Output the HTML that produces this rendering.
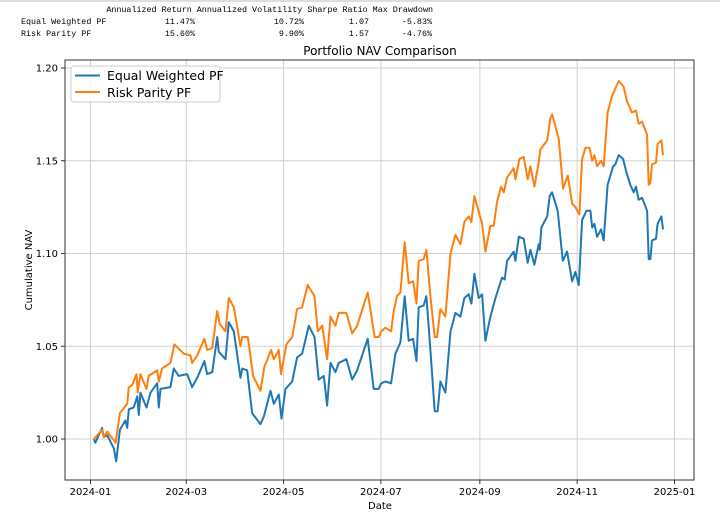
<!DOCTYPE html>
<html><head><meta charset="utf-8"><style>
html,body{margin:0;padding:0;background:#fff;}
svg{display:block;font-family:"DejaVu Sans","Liberation Sans",sans-serif;}
.mono{font-family:"Liberation Mono","DejaVu Sans Mono",monospace;font-size:8.4px;fill:#000;}
.tick{font-size:10px;fill:#000;}
</style></head><body>
<svg id="chart" width="720" height="522" viewBox="0 0 720 522">
  <line x1="0" y1="1" x2="720" y2="1" stroke="#ddd" stroke-width="2"/>
  <g>
    <text class="mono" x="433" y="12" text-anchor="end">Annualized Return Annualized Volatility Sharpe Ratio Max Drawdown</text>
    <text class="mono" x="21" y="24">Equal Weighted PF</text>
    <text class="mono" x="195" y="24" text-anchor="end">11.47%</text>
    <text class="mono" x="304" y="24" text-anchor="end">10.72%</text>
    <text class="mono" x="369" y="24" text-anchor="end">1.07</text>
    <text class="mono" x="432" y="24" text-anchor="end">-5.83%</text>
    <text class="mono" x="21" y="36">Risk Parity PF</text>
    <text class="mono" x="195" y="36" text-anchor="end">15.60%</text>
    <text class="mono" x="304" y="36" text-anchor="end">9.90%</text>
    <text class="mono" x="369" y="36" text-anchor="end">1.57</text>
    <text class="mono" x="432" y="36" text-anchor="end">-4.76%</text>
  </g>
  <text x="380" y="55" text-anchor="middle" font-size="12">Portfolio NAV Comparison</text>
  <g id="grid"></g>
  <g id="series"></g>
  <rect x="65" y="60" width="629" height="420" fill="none" stroke="#333" stroke-width="1"/>
  <g id="ticks"></g>
  <text x="380" y="509" text-anchor="middle" font-size="10">Date</text>
  <text transform="translate(32,270) rotate(-90)" text-anchor="middle" font-size="10">Cumulative NAV</text>
  <g>
    <rect x="71" y="66" width="149" height="36" rx="3" fill="#fff" fill-opacity="0.85" stroke="#ccc"/>
    <line x1="75" y1="75.5" x2="100" y2="75.5" stroke="#1f77b4" stroke-width="2"/>
    <text x="107" y="80" font-size="12.5">Equal Weighted PF</text>
    <line x1="75" y1="92" x2="100" y2="92" stroke="#ff7f0e" stroke-width="2"/>
    <text x="107" y="97" font-size="12.5">Risk Parity PF</text>
  </g>
</svg>
<script>
// days since 2024-01-01
const ewDays = [2.1,3.1,7.3,8.3,10.5,14.6,16.1,18.4,21.9,23.0,24.0,27.1,29.3,30.3,31.3,35.1,37.6,41.8,42.8,43.9,50.1,52.2,55.3,60.6,63.7,66.9,71.4,73.1,76.3,79.4,80.4,84.6,86.7,89.8,94.0,95.1,98.2,101.3,106.5,108.6,112.8,114.9,118.0,119.7,122.2,126.4,129.5,132.6,136.8,140.4,143.0,146.2,148.3,150.4,153.5,155.6,160.4,164.0,167.1,173.7,177.5,180.6,182.1,184.8,188.4,191.1,194.2,196.9,199.4,202.2,204.3,205.7,208.8,210.5,213.0,215.7,217.6,219.3,222.4,225.6,228.7,231.8,234.3,237.0,238.7,240.6,243.3,245.4,247.5,250.6,253.8,257.9,259.6,261.1,265.2,266.3,268.4,271.5,274.0,275.7,278.2,280.9,281.5,282.6,286.2,287.8,289.3,292.8,296.0,298.7,301.8,303.9,306.0,308.1,310.8,313.3,314.4,315.8,317.5,320.0,321.6,324.1,327.5,328.9,331.0,333.8,335.8,338.3,340.4,341.9,343.5,345.7,348.8,349.8,350.9,351.9,354.4,355.4,357.8,358.8];
const ewValues = [1.000,0.998,1.006,1.001,1.002,0.995,0.988,1.005,1.010,1.006,1.016,1.017,1.023,1.013,1.025,1.017,1.025,1.030,1.017,1.027,1.028,1.038,1.034,1.035,1.028,1.033,1.042,1.035,1.036,1.055,1.047,1.043,1.063,1.058,1.033,1.038,1.037,1.014,1.008,1.012,1.026,1.019,1.024,1.011,1.027,1.031,1.044,1.046,1.061,1.055,1.032,1.034,1.018,1.041,1.036,1.041,1.043,1.032,1.037,1.054,1.027,1.027,1.030,1.031,1.030,1.046,1.052,1.077,1.053,1.054,1.042,1.071,1.072,1.077,1.048,1.015,1.015,1.031,1.025,1.058,1.068,1.066,1.076,1.078,1.073,1.089,1.076,1.078,1.053,1.066,1.076,1.087,1.086,1.096,1.101,1.096,1.109,1.108,1.095,1.102,1.094,1.105,1.102,1.114,1.120,1.131,1.133,1.123,1.096,1.101,1.085,1.090,1.083,1.118,1.123,1.123,1.114,1.116,1.109,1.113,1.107,1.137,1.147,1.148,1.153,1.151,1.144,1.137,1.133,1.136,1.129,1.130,1.123,1.097,1.097,1.107,1.108,1.116,1.120,1.113];
const rpDays = [2.1,7.3,8.3,10.5,15.7,18.4,23.0,24.0,26.1,28.8,29.6,31.3,35.1,36.5,41.8,42.8,44.9,50.1,52.6,58.5,62.7,63.7,66.9,71.4,73.1,76.3,79.4,81.0,84.6,86.7,89.8,94.0,95.1,98.6,101.9,106.5,109.0,113.2,114.9,118.0,119.4,122.8,126.4,129.5,132.6,136.1,140.4,142.4,145.2,148.3,150.4,153.5,155.6,160.4,164.0,167.1,173.7,178.1,180.6,182.1,184.8,188.4,190.0,192.1,194.2,196.9,199.4,202.2,204.3,205.7,208.8,210.5,213.0,215.7,217.2,219.3,222.4,225.6,228.7,231.8,234.3,237.0,238.7,240.6,245.4,247.5,250.6,252.7,254.8,257.3,259.0,261.1,265.2,266.3,268.8,271.5,274.0,275.7,278.2,280.9,281.9,286.2,288.2,289.3,293.4,296.2,299.1,301.8,303.9,306.4,308.1,310.2,312.7,314.4,315.8,317.5,320.0,321.6,324.1,326.9,331.0,334.1,336.2,339.3,341.9,343.5,345.7,348.8,349.8,350.9,351.9,354.4,355.4,357.8,358.8];
const rpValues = [1.000,1.005,1.001,1.004,0.998,1.014,1.019,1.028,1.029,1.035,1.025,1.035,1.027,1.034,1.037,1.031,1.038,1.041,1.051,1.046,1.045,1.041,1.045,1.054,1.048,1.049,1.069,1.062,1.058,1.076,1.071,1.050,1.055,1.055,1.034,1.026,1.039,1.048,1.043,1.048,1.035,1.051,1.055,1.070,1.071,1.083,1.077,1.058,1.061,1.043,1.066,1.061,1.068,1.068,1.057,1.061,1.079,1.055,1.055,1.058,1.060,1.058,1.069,1.077,1.079,1.106,1.084,1.085,1.073,1.096,1.097,1.102,1.077,1.055,1.055,1.070,1.066,1.100,1.110,1.105,1.117,1.120,1.117,1.131,1.116,1.101,1.115,1.115,1.128,1.136,1.133,1.141,1.146,1.140,1.151,1.152,1.140,1.147,1.136,1.149,1.156,1.161,1.173,1.175,1.162,1.135,1.142,1.127,1.125,1.121,1.151,1.157,1.157,1.150,1.153,1.147,1.150,1.147,1.176,1.185,1.193,1.190,1.182,1.176,1.177,1.170,1.171,1.164,1.137,1.138,1.148,1.149,1.159,1.161,1.153];
const xTickDays = [0,60,121,182,244,305,366];
const xTickLabels = ["2024-01","2024-03","2024-05","2024-07","2024-09","2024-11","2025-01"];
const yTickValues = [1.00,1.05,1.10,1.15,1.20];
const yTickLabels = ["1.00","1.05","1.10","1.15","1.20"];

const NS = "http://www.w3.org/2000/svg";
function xScale(d){ return 90.5 + d * (674.5 - 90.5) / 366; }
function yScale(v){ return 439 - (v - 1) * (439 - 68) / 0.2; }
function mk(tag, attrs, parent){ const e = document.createElementNS(NS, tag); for (const k in attrs) e.setAttribute(k, attrs[k]); parent.appendChild(e); return e; }
const grid = document.getElementById('grid'), ticks = document.getElementById('ticks'), series = document.getElementById('series');
xTickDays.forEach((d, i) => {
  const x = xScale(d);
  const g = mk('line', {x1:x, y1:60, x2:x, y2:480, stroke:'#d0d0d0', 'stroke-width':1}, grid);
  
  
  const t = mk('line', {x1:x, y1:480, x2:x, y2:484, stroke:'#333'}, ticks);
  
  
  const l = mk('text', {x:x, y:495, 'text-anchor':'middle', class:'tick'}, ticks);
  l.textContent = xTickLabels[i];
  
  
});
yTickValues.forEach((v, i) => {
  const y = yScale(v);
  const g = mk('line', {x1:65, y1:y, x2:694, y2:y, stroke:'#d0d0d0', 'stroke-width':1}, grid);
  
  
  const t = mk('line', {x1:61, y1:y, x2:65, y2:y, stroke:'#333'}, ticks);
  
  
  const l = mk('text', {x:58, y:y + 3.5, 'text-anchor':'end', class:'tick'}, ticks);
  l.textContent = yTickLabels[i];
  
  
});
function drawLine(days, vals, color, name){
  const d = days.map((dd, i) => (i ? 'L' : 'M') + xScale(dd).toFixed(1) + ',' + yScale(vals[i]).toFixed(1)).join(' ');
  const p = mk('path', {d:d, fill:'none', stroke:color, 'stroke-width':2, 'stroke-linejoin':'round'}, series);
  
  
}
drawLine(ewDays, ewValues, '#1f77b4', 'equal-weighted-line');
drawLine(rpDays, rpValues, '#ff7f0e', 'risk-parity-line');
</script>
</body></html>
